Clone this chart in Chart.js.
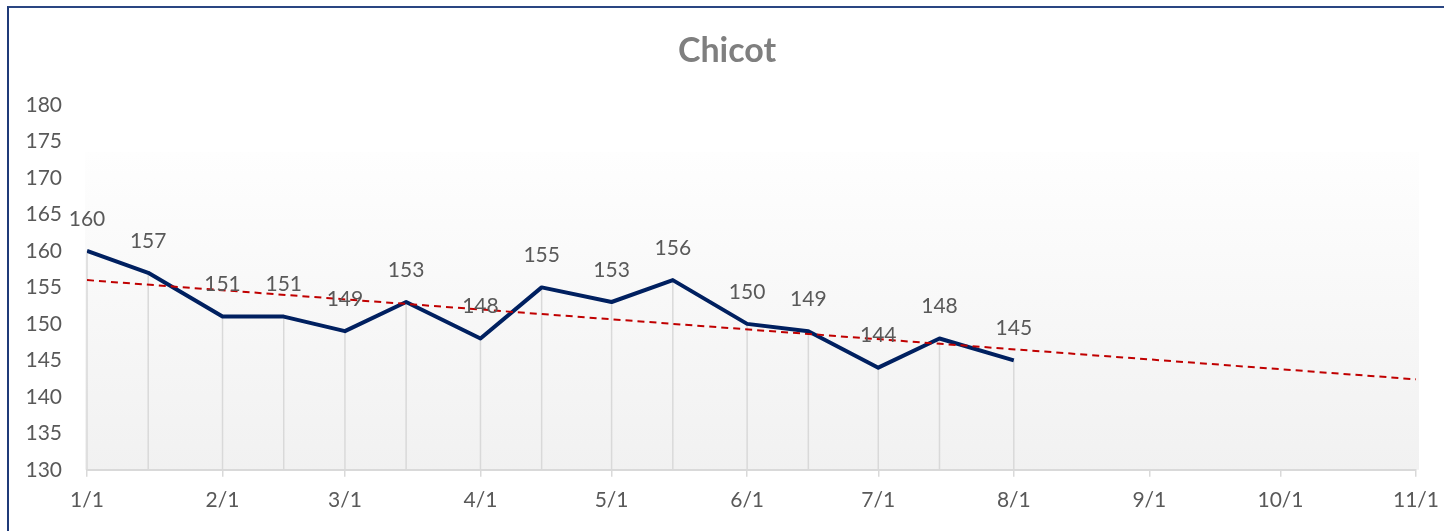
<!DOCTYPE html>
<html><head><meta charset="utf-8">
<script src="https://cdn.jsdelivr.net/npm/chart.js@4.4.0/dist/chart.umd.min.js"></script>
<style>
html,body{margin:0;padding:0;background:#fff;overflow:hidden;}
#wrap{position:relative;width:1444px;height:531px;}
#frame{position:absolute;left:7px;top:6px;width:1500px;height:600px;border-left:2px solid #1F3A78;border-top:2px solid #2A4682;pointer-events:none;box-sizing:border-box;}
</style></head><body>
<div id="wrap"><canvas id="c" width="1444" height="531"></canvas><div id="frame"></div></div>
<script>
const year = 2023;
const titleText = 'Chicot';
const dates = ['1/1','1/15','2/1','2/15','3/1','3/15','4/1','4/15','5/1','5/15','6/1','6/15','7/1','7/15','8/1'];
const values = [160,157,151,151,149,153,148,155,153,156,150,149,144,148,145];
const trendDates = ['1/1','11/1'];
const trendValues = [156.0, 142.4];
const xTickLabels = ['1/1','2/1','3/1','4/1','5/1','6/1','7/1','8/1','9/1','10/1','11/1'];
const yMin = 130, yMax = 180, yStep = 5;

function dayOf(md){
  const [m,d] = md.split('/').map(Number);
  return (Date.UTC(year,m-1,d) - Date.UTC(year,0,1))/86400000;
}
const tickDays = xTickLabels.map(dayOf);
const labelByDay = {};
xTickLabels.forEach((l,i)=>{ labelByDay[tickDays[i]] = l; });

Chart.defaults.font.family = 'Lato, "Open Sans", sans-serif';

const bgPlugin = {
  id:'bg',
  beforeDraw(chart){
    const {ctx, chartArea:a} = chart;
    const top = a.top + 47;
    const g = ctx.createLinearGradient(0, top, 0, a.bottom);
    g.addColorStop(0, '#fefefe');
    g.addColorStop(1, '#f1f1f1');
    ctx.save();
    ctx.fillStyle = g;
    ctx.fillRect(a.left - 2, top, a.right - a.left + 5, a.bottom - top);
    ctx.restore();
  }
};
const titlePlugin = {
  id:'ttl',
  afterDraw(chart){
    const {ctx} = chart;
    ctx.save();
    ctx.font = 'bold 34px Lato, "Open Sans", sans-serif';
    ctx.fillStyle = '#7F7F7F';
    ctx.textAlign = 'center';
    ctx.textBaseline = 'middle';
    ctx.fillText(titleText, 727, 51);
    ctx.restore();
  }
};
const dropPlugin = {
  id:'drop',
  beforeDatasetsDraw(chart){
    const {ctx, chartArea:a} = chart;
    const meta = chart.getDatasetMeta(1);
    ctx.save();
    ctx.strokeStyle = '#d9d9d9';
    ctx.lineWidth = 1.5;
    meta.data.forEach(p=>{
      ctx.beginPath();
      ctx.moveTo(p.x, p.y);
      ctx.lineTo(p.x, a.bottom);
      ctx.stroke();
    });
    ctx.restore();
  }
};
const labelPlugin = {
  id:'lbl',
  afterDatasetsDraw(chart){
    const {ctx} = chart;
    const meta = chart.getDatasetMeta(1);
    ctx.save();
    ctx.font = '21px Lato, "Open Sans", sans-serif';
    ctx.fillStyle = '#595959';
    ctx.textAlign = 'center';
    ctx.textBaseline = 'middle';
    meta.data.forEach((p,i)=>{
      ctx.fillText(String(values[i]), p.x, p.y - 32);
    });
    ctx.restore();
  }
};

new Chart(document.getElementById('c'), {
  type:'line',
  data:{
    datasets:[
      {
        label:'Trend',
        data: trendDates.map((d,i)=>({x:dayOf(d), y:trendValues[i]})),
        borderColor:'#C00000',
        borderWidth:2,
        borderDash:[7,5],
        pointRadius:0,
        fill:false,
        order:0
      },
      {
        label:titleText,
        data: dates.map((d,i)=>({x:dayOf(d), y:values[i]})),
        borderColor:'#002060',
        borderWidth:4,
        borderJoinStyle:'round',
        borderCapStyle:'butt',
        pointRadius:0,
        tension:0,
        fill:false,
        order:1
      }
    ]
  },
  options:{
    responsive:false,
    animation:false,
    devicePixelRatio:1,
    layout:{padding:{left:17, right:28, top:105, bottom:7}},
    plugins:{
      legend:{display:false},
      tooltip:{enabled:false},
      title:{display:false}
    },
    scales:{
      x:{
        type:'linear',
        min:tickDays[0],
        max:tickDays[tickDays.length-1],
        afterBuildTicks(scale){ scale.ticks = tickDays.map(v=>({value:v})); },
        afterFit(scale){ scale.paddingLeft = 0; scale.paddingRight = 0; },
        ticks:{
          autoSkip:false,
          maxRotation:0,
          padding:11,
          color:'#595959',
          font:{size:21},
          callback:(v)=>labelByDay[v] ?? ''
        },
        grid:{display:true, drawOnChartArea:false, drawTicks:true, tickLength:7, color:'#d9d9d9', lineWidth:1.5},
        border:{display:true, color:'#d9d9d9', width:2}
      },
      y:{
        min:yMin, max:yMax,
        ticks:{stepSize:yStep, padding:25, color:'#595959', font:{size:21}},
        grid:{display:false, drawTicks:false},
        border:{display:false},
        afterFit(scale){ scale.width = 70; scale.paddingTop = 0; scale.paddingBottom = 0; }
      }
    }
  },
  plugins:[bgPlugin, dropPlugin, labelPlugin, titlePlugin]
});
</script>
</body></html>
